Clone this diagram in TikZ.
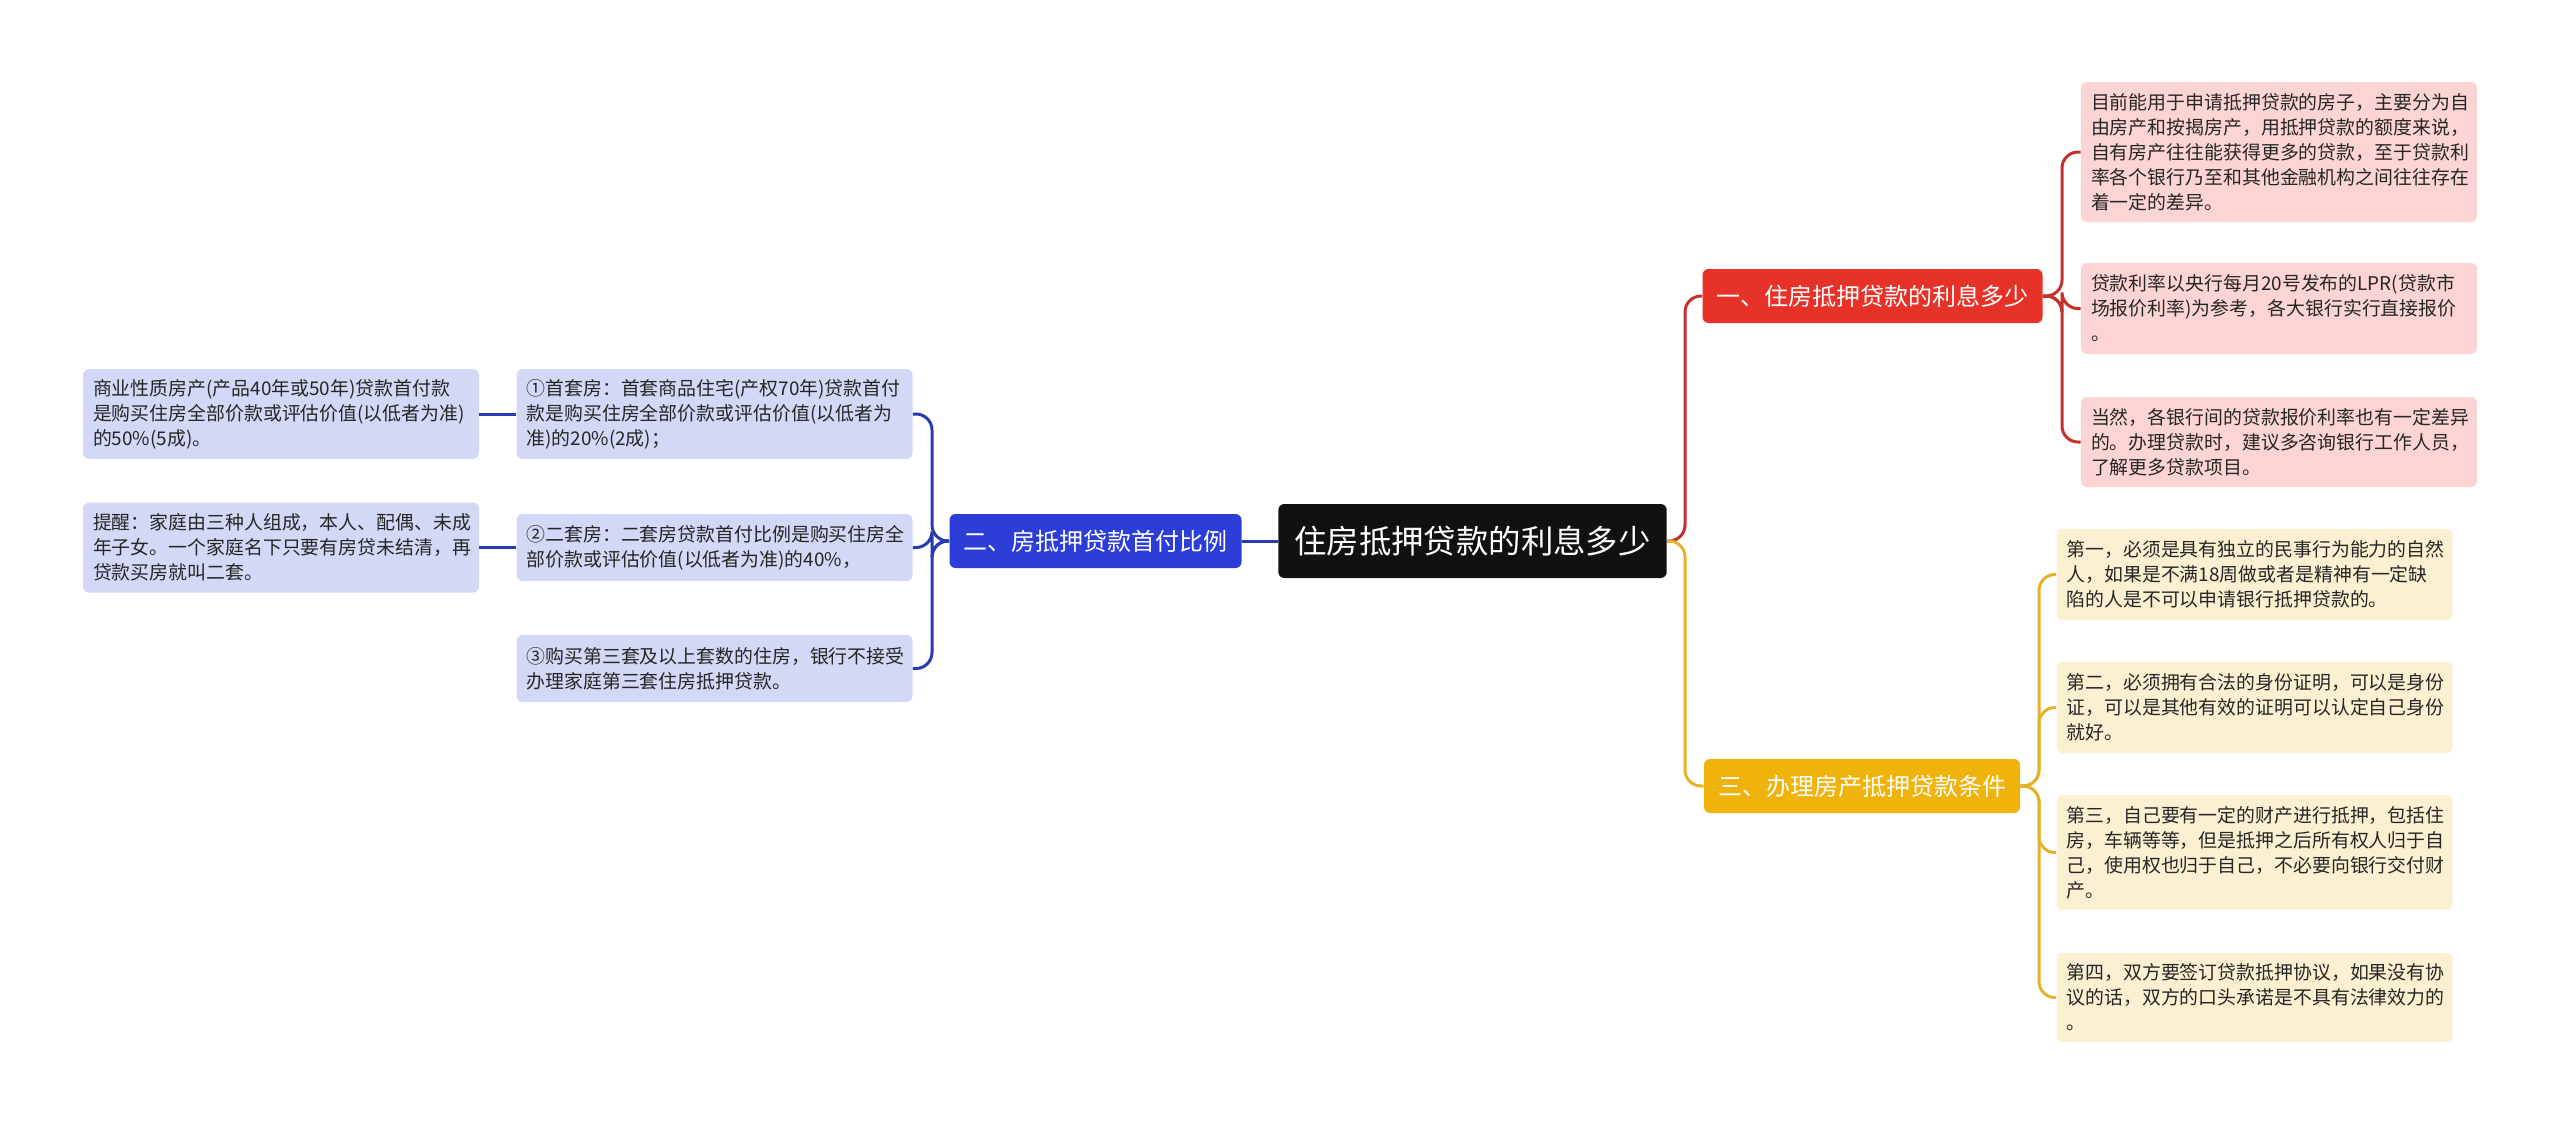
\documentclass[tikz,border=0pt]{standalone}
\usepackage{fontspec}
\setmainfont{Noto Sans CJK SC}

\definecolor{rootbg}{HTML}{111111}
\definecolor{redmain}{HTML}{E63228}
\definecolor{redline}{HTML}{C4302B}
\definecolor{redleaf}{HTML}{FCD4D4}
\definecolor{yelmain}{HTML}{F0B30C}
\definecolor{yelline}{HTML}{E5B32B}
\definecolor{yelleaf}{HTML}{FCF0D2}
\definecolor{bluemain}{HTML}{2C3ED6}
\definecolor{blueline}{HTML}{2A3AB0}
\definecolor{blueleaf}{HTML}{D3D8F6}

\begin{document}
\begin{tikzpicture} [x=0.5pt, y=-0.5pt,
        root/.style = {fill=rootbg, text=white, rounded corners=3pt, minimum height=37pt, inner xsep=8pt, font=\fontsize{16.2}{20}\selectfont},
        branch/.style = {text=white, rounded corners=3pt, minimum height=27pt, inner xsep=7pt, font=\fontsize{12}{15}\selectfont},
        leaf/.style = {rounded corners=3pt, align=left, text width=188pt, inner xsep=5pt, inner ysep=5pt, text=black!85, font=\fontsize{9.45}{12.5}\selectfont},
        link/.style = {line width=1.5pt, rounded corners=8pt}]
        \useasboundingbox (0,0) rectangle (2560,1125);

        \node (root) [root] at (1472.5,541) {住房抵押贷款的利息多少};
        \node (b1) [branch, fill=redmain] at (1872.5,296) {一、住房抵押贷款的利息多少};
        \node (b2) [branch, fill=bluemain] at (1095.5,541) {二、房抵押贷款首付比例};
        \node (b3) [branch, fill=yelmain] at (1862,786) {三、办理房产抵押贷款条件};

        % interest
        \node (l1) [leaf, fill=redleaf, minimum height=70pt] at (2279,152) {目前能用于申请抵押贷款的房子，主要分为自\\由房产和按揭房产，用抵押贷款的额度来说，\\自有房产往往能获得更多的贷款，至于贷款利\\率各个银行乃至和其他金融机构之间往往存在\\着一定的差异。};
        \node (l2) [leaf, fill=redleaf, minimum height=45.5pt] at (2279,308.5) {贷款利率以央行每月20号发布的LPR(贷款市\\场报价利率)为参考，各大银行实行直接报价\\。};
        \node (l3) [leaf, fill=redleaf, minimum height=45pt] at (2279,442) {当然，各银行间的贷款报价利率也有一定差异\\的。办理贷款时，建议多咨询银行工作人员，\\了解更多贷款项目。};

        % conditions
        \node (y1) [leaf, fill=yelleaf, minimum height=45.5pt] at (2254.5,574.5) {第一，必须是具有独立的民事行为能力的自然\\人，如果是不满18周做或者是精神有一定缺\\陷的人是不可以申请银行抵押贷款的。};
        \node (y2) [leaf, fill=yelleaf, minimum height=45.5pt] at (2254.5,707.5) {第二，必须拥有合法的身份证明，可以是身份\\证，可以是其他有效的证明可以认定自己身份\\就好。};
        \node (y3) [leaf, fill=yelleaf, minimum height=57.5pt] at (2254.5,852.5) {第三，自己要有一定的财产进行抵押，包括住\\房，车辆等等，但是抵押之后所有权人归于自\\己，使用权也归于自己，不必要向银行交付财\\产。};
        \node (y4) [leaf, fill=yelleaf, minimum height=44.5pt] at (2254.5,997.5) {第四，双方要签订贷款抵押协议，如果没有协\\议的话，双方的口头承诺是不具有法律效力的\\。};

        % down payment
        \node (m1) [leaf, fill=blueleaf, minimum height=44pt] at (714.5,414) {①首套房：首套商品住宅(产权70年)贷款首付\\款是购买住房全部价款或评估价值(以低者为\\准)的20\%(2成)；};
        \node (m2) [leaf, fill=blueleaf, minimum height=33.5pt] at (714.5,547.5) {②二套房：二套房贷款首付比例是购买住房全\\部价款或评估价值(以低者为准)的40\%，};
        \node (m3) [leaf, fill=blueleaf, minimum height=33.5pt] at (714.5,668.5) {③购买第三套及以上套数的住房，银行不接受\\办理家庭第三套住房抵押贷款。};
        \node (f1) [leaf, fill=blueleaf, minimum height=44.5pt] at (281,414) {商业性质房产(产品40年或50年)贷款首付款\\是购买住房全部价款或评估价值(以低者为准)\\的50\%(5成)。};
        \node (f2) [leaf, fill=blueleaf, minimum height=45pt] at (281,547.5) {提醒：家庭由三种人组成，本人、配偶、未成\\年子女。一个家庭名下只要有房贷未结清，再\\贷款买房就叫二套。};

        \coordinate (rfork) at (1685,541);
        \coordinate (b1fork) at (2062,296);
        \coordinate (b3fork) at (2039,786);
        \coordinate (b2fork) at (932,541);

        \draw [link, redline] (root.east) -- (rfork) |- (b1.west);
        \draw [link, yelline] (root.east) -- (rfork) |- (b3.west);
        \draw [link, blueline] (root.west) -- (b2.east);

        \foreach \leafname in {l1, l2, l3}
            \draw [link, redline] (b1.east) -- (b1fork) |- (\leafname.west);
        \foreach \leafname in {y1, y2, y3, y4}
            \draw [link, yelline] (b3.east) -- (b3fork) |- (\leafname.west);
        \foreach \leafname in {m1, m2, m3}
            \draw [link, blueline] (b2.west) -- (b2fork) |- (\leafname.east);
        \draw [link, blueline] (m1.west) -- (f1.east);
        \draw [link, blueline] (m2.west) -- (f2.east);

    \end{tikzpicture}
\end{document}
